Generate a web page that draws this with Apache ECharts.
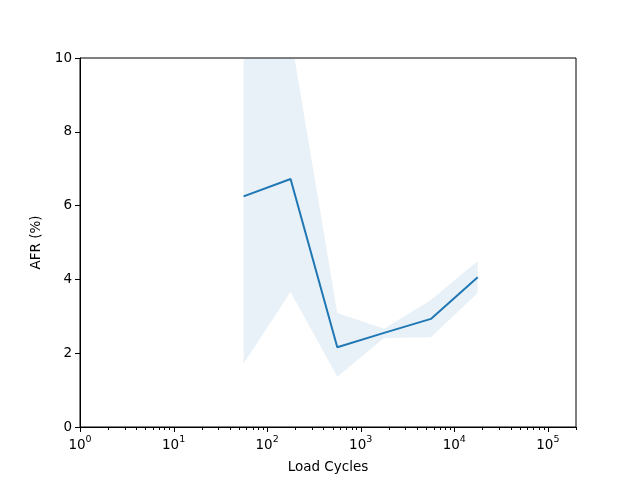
<!DOCTYPE html>
<html>
<head>
<meta charset="utf-8">
<script src="https://cdn.jsdelivr.net/npm/echarts@6/dist/echarts.min.js"></script>
<style>html,body{margin:0;padding:0;background:#fff}#c{width:640px;height:480px}</style>
</head>
<body>
<div id="c"></div>
<script>
var cycles = [56, 178, 562, 1778, 5623, 17783];
var afrMean = [6.25, 6.72, 2.16, 2.55, 2.93, 4.06];
var afrLower = [1.72, 3.66, 1.36, 2.41, 2.43, 3.63];
var afrUpper = [11.5, 10.64, 3.09, 2.66, 3.44, 4.50];
var majorTicks = [1, 10, 100, 1000, 10000, 100000];
var minorTicks = [];
[1, 10, 100, 1000, 10000, 100000].forEach(function (d) {
  [2, 3, 4, 5, 6, 7, 8, 9].forEach(function (m) { if (d * m <= 200000) minorTicks.push(d * m); });
});
var yTicks = [0, 2, 4, 6, 8, 10];

var FONT = 'DejaVu Sans';
var FS = 13.5;
var blue = '#1f77b4';
var chart = echarts.init(document.getElementById('c'), null, {renderer: 'canvas'});

function tickSeries(vals, len) {
  return {
    type: 'custom',
    silent: true,
    clip: false,
    z: 5,
    data: vals.map(function (v) { return [v, 0]; }),
    renderItem: function (params, api) {
      var p = api.coord([api.value(0), api.value(1)]);
      var x = Math.round(p[0]) + 0.5;
      return {
        type: 'line',
        shape: {x1: x, y1: p[1], x2: x, y2: p[1] + len},
        style: {stroke: '#000', lineWidth: 1}
      };
    }
  };
}

var option = {
  backgroundColor: '#fff',
  animation: false,
  grid: {left: 80, right: 64, top: 58, bottom: 53, show: true, borderColor: '#000', borderWidth: 1, backgroundColor: 'transparent'},
  xAxis: {
    type: 'log',
    logBase: 10,
    min: 1,
    max: 200000,
    name: 'Load Cycles',
    nameLocation: 'middle',
    nameGap: 33,
    nameTextStyle: {fontFamily: FONT, fontSize: FS, color: '#000'},
    axisLine: {show: true, onZero: false, lineStyle: {color: '#000', width: 1}},
    axisTick: {show: false},
    splitLine: {show: false},
    axisLabel: {
      show: true,
      margin: 8,
      showMaxLabel: false,
      formatter: function (v) {
        var e = Math.round(Math.log10(v));
        if (Math.abs(Math.pow(10, e) - v) > 1e-6 * v) return '';
        return '{b|10}{s|' + e + '}';
      },
      rich: {
        b: {fontFamily: FONT, fontSize: FS, color: '#000', verticalAlign: 'bottom'},
        s: {fontFamily: FONT, fontSize: 9.5, color: '#000', verticalAlign: 'top', padding: [0, 0, 7, 0]}
      }
    }
  },
  yAxis: {
    type: 'value',
    min: 0,
    max: 10,
    interval: 2,
    name: 'AFR (%)',
    nameLocation: 'middle',
    nameGap: 29,
    nameTextStyle: {fontFamily: FONT, fontSize: FS, color: '#000'},
    axisLine: {show: true, lineStyle: {color: '#000', width: 1}},
    axisTick: {show: true, length: 5, lineStyle: {color: '#000', width: 1}},
    splitLine: {show: false},
    axisLabel: {fontFamily: FONT, fontSize: FS, color: '#000', margin: 8}
  },
  series: [
    {
      type: 'custom',
      name: 'band',
      silent: true,
      clip: true,
      z: 1,
      data: [[cycles[0], afrMean[0]]],
      renderItem: function (params, api) {
        var pts = [];
        for (var i = 0; i < cycles.length; i++) pts.push(api.coord([cycles[i], afrUpper[i]]));
        for (var j = cycles.length - 1; j >= 0; j--) pts.push(api.coord([cycles[j], afrLower[j]]));
        var cs = params.coordSys;
        return {
          type: 'polygon',
          shape: {points: pts},
          style: {fill: 'rgba(31,119,180,0.1)', stroke: null},
          clipPath: {type: 'rect', shape: {x: cs.x, y: cs.y, width: cs.width, height: cs.height}}
        };
      }
    },
    {
      type: 'line', name: 'AFR', symbol: 'none', silent: true, z: 3,
      data: cycles.map(function (c, i) { return [c, afrMean[i]]; }),
      lineStyle: {color: blue, width: 2}
    },
    tickSeries(majorTicks, 5),
    tickSeries(minorTicks, 3)
  ]
};
chart.setOption(option);
</script>
</body>
</html>
